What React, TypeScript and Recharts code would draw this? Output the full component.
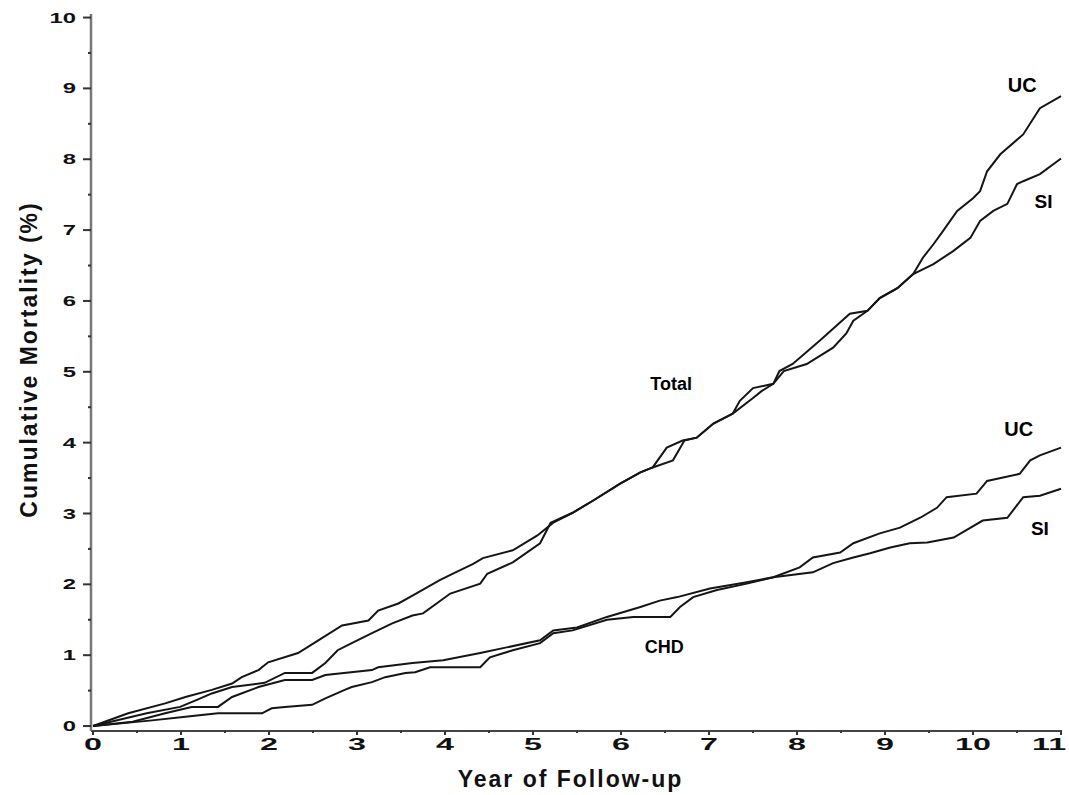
import React from 'react';
import { LineChart, Line, XAxis, YAxis, ReferenceDot } from 'recharts';

// ---- data (years of follow-up, cumulative mortality %) ----
const totalUcYears = [0, 0.4, 0.82, 1.05, 1.35, 1.58, 1.69, 1.88, 1.99, 2.33, 2.56, 2.83, 3.13, 3.24, 3.47, 3.63, 3.94, 4.09, 4.32, 4.43, 4.77, 5.05, 5.23, 5.45, 5.68, 5.99, 6.22, 6.36, 6.52, 6.7, 6.86, 7.05, 7.27, 7.35, 7.5, 7.73, 7.8, 7.95, 8.26, 8.6, 8.8, 8.94, 9.14, 9.32, 9.43, 9.55, 9.66, 9.82, 10.0, 10.08, 10.16, 10.31, 10.57, 10.76, 11];
const totalUcValues = [0, 0.18, 0.32, 0.41, 0.51, 0.6, 0.69, 0.79, 0.9, 1.03, 1.21, 1.42, 1.49, 1.63, 1.73, 1.84, 2.06, 2.15, 2.29, 2.37, 2.48, 2.69, 2.87, 3.01, 3.18, 3.42, 3.58, 3.65, 3.93, 4.03, 4.07, 4.27, 4.41, 4.59, 4.77, 4.83, 5.01, 5.11, 5.44, 5.82, 5.86, 6.04, 6.18, 6.38, 6.61, 6.8, 6.99, 7.27, 7.45, 7.55, 7.83, 8.07, 8.35, 8.72, 8.89];

const totalSiYears = [0, 0.61, 0.99, 1.18, 1.35, 1.58, 1.95, 2.18, 2.49, 2.64, 2.78, 2.94, 3.17, 3.4, 3.63, 3.75, 4.06, 4.4, 4.48, 4.77, 5.08, 5.2, 5.45, 5.68, 5.99, 6.22, 6.36, 6.59, 6.72, 6.86, 7.05, 7.27, 7.5, 7.6, 7.73, 7.85, 8.11, 8.41, 8.56, 8.64, 8.8, 8.94, 9.14, 9.32, 9.55, 9.77, 9.97, 10.08, 10.23, 10.39, 10.5, 10.57, 10.76, 11];
const totalSiValues = [0, 0.18, 0.27, 0.37, 0.46, 0.55, 0.61, 0.75, 0.75, 0.89, 1.07, 1.17, 1.31, 1.45, 1.56, 1.59, 1.87, 2.01, 2.15, 2.31, 2.58, 2.87, 3.01, 3.18, 3.42, 3.58, 3.65, 3.75, 4.03, 4.07, 4.27, 4.41, 4.63, 4.73, 4.83, 5.01, 5.11, 5.34, 5.54, 5.72, 5.86, 6.04, 6.18, 6.38, 6.52, 6.7, 6.89, 7.13, 7.27, 7.37, 7.65, 7.69, 7.79, 8.01];

const chdUcYears = [0, 0.45, 0.82, 1.12, 1.42, 1.58, 1.88, 2.18, 2.49, 2.64, 3.17, 3.24, 3.63, 3.98, 4.4, 4.7, 5.08, 5.23, 5.5, 5.84, 6.22, 6.44, 6.64, 7.01, 7.43, 7.73, 8.03, 8.18, 8.49, 8.64, 8.94, 9.17, 9.4, 9.59, 9.7, 10.04, 10.16, 10.53, 10.65, 10.76, 11];
const chdUcValues = [0, 0.06, 0.18, 0.27, 0.27, 0.41, 0.55, 0.65, 0.65, 0.72, 0.79, 0.83, 0.89, 0.93, 1.03, 1.11, 1.21, 1.35, 1.39, 1.54, 1.68, 1.77, 1.82, 1.94, 2.03, 2.1, 2.24, 2.38, 2.45, 2.58, 2.72, 2.8, 2.94, 3.08, 3.23, 3.28, 3.46, 3.56, 3.75, 3.82, 3.93];

const chdSiYears = [0, 0.67, 1.05, 1.42, 1.92, 2.03, 2.18, 2.49, 2.64, 2.86, 2.94, 3.17, 3.32, 3.55, 3.66, 3.83, 4.4, 4.51, 4.77, 5.08, 5.23, 5.45, 5.84, 6.14, 6.56, 6.67, 6.82, 7.09, 7.43, 7.73, 8.18, 8.41, 8.64, 8.83, 9.06, 9.28, 9.48, 9.78, 10.11, 10.39, 10.57, 10.76, 11];
const chdSiValues = [0, 0.08, 0.13, 0.18, 0.18, 0.25, 0.27, 0.3, 0.39, 0.51, 0.55, 0.62, 0.69, 0.75, 0.76, 0.83, 0.83, 0.97, 1.07, 1.17, 1.31, 1.35, 1.5, 1.54, 1.54, 1.68, 1.82, 1.92, 2.01, 2.1, 2.17, 2.3, 2.38, 2.44, 2.52, 2.58, 2.59, 2.66, 2.9, 2.94, 3.23, 3.25, 3.35];

const xTicks = [0, 0.5, 1, 1.5, 2, 2.5, 3, 3.5, 4, 4.5, 5, 5.5, 6, 6.5, 7, 7.5, 8, 8.5, 9, 9.5, 10, 10.5, 11];
const yTicks = [0, 0.5, 1, 1.5, 2, 2.5, 3, 3.5, 4, 4.5, 5, 5.5, 6, 6.5, 7, 7.5, 8, 8.5, 9, 9.5, 10];

const annotationText = ['UC', 'SI', 'Total', 'UC', 'SI', 'CHD'];
const annotationYears = [10.56, 10.8, 6.57, 10.52, 10.76, 6.49];
const annotationValues = [9.05, 7.41, 4.83, 4.19, 2.79, 1.12];
const annotationSizes = [20, 19, 18, 20, 19, 18];

const xTitle = 'Year of Follow-up';
const yTitle = 'Cumulative Mortality (%)';

const zip = (ts: number[], vs: number[]) => ts.map((t, i) => ({ t, v: vs[i] }));
const series = [
  { key: 'totalUC', data: zip(totalUcYears, totalUcValues) },
  { key: 'totalSI', data: zip(totalSiYears, totalSiValues) },
  { key: 'chdUC', data: zip(chdUcYears, chdUcValues) },
  { key: 'chdSI', data: zip(chdSiYears, chdSiValues) },
];

const FONT = '"Liberation Sans", Arial, Helvetica, sans-serif';
const PAGE_W = 1069;

const YTick = (props: any) => {
  const { x, y, payload } = props;
  const v = payload.value;
  const major = Number.isInteger(v);
  return (
    <g>
      <line x1={x - (major ? 8 : 3)} x2={x} y1={y} y2={y} stroke="#333" strokeWidth={2} />
      {major && (
        <text
          transform={`translate(${x - 15},${y}) scale(1.7,1)`}
          textAnchor="end"
          dy="0.36em"
          fontSize={14}
          fontWeight={700}
          fontFamily={FONT}
          fill="#111"
        >
          {v}
        </text>
      )}
    </g>
  );
};

const XTick = (props: any) => {
  const { x, y, payload } = props;
  const v = payload.value;
  const major = Number.isInteger(v);
  // keep the last label inside the page (the reference shows it at the very edge)
  const label = String(v);
  const approxHalf = label.length * 9.45 * 1.9 * 0.5;
  const cx = Math.min(x, PAGE_W - 2 - approxHalf);
  return (
    <g>
      <line x1={x} x2={x} y1={y} y2={y + (major ? 4 : 2)} stroke="#333" strokeWidth={2} />
      {major && (
        <text
          transform={`translate(${cx},${y + 19}) scale(1.9,1)`}
          textAnchor="middle"
          fontSize={17}
          fontWeight={700}
          fontFamily={FONT}
          fill="#111"
        >
          {label}
        </text>
      )}
    </g>
  );
};

const XTitle = (props: any) => {
  const vb = props.viewBox;
  return (
    <text
      x={vb.x + vb.width / 2 - 6}
      y={vb.y + vb.height - 8}
      textAnchor="middle"
      fontSize={23}
      fontWeight={700}
      letterSpacing={2}
      fontFamily={FONT}
      fill="#111"
    >
      {xTitle}
    </text>
  );
};

const YTitle = (props: any) => {
  const vb = props.viewBox;
  const cx = 37;
  const cy = vb.y + vb.height / 2 - 13;
  return (
    <text
      transform={`translate(${cx},${cy}) rotate(-90)`}
      textAnchor="middle"
      fontSize={23}
      fontWeight={700}
      letterSpacing={2}
      fontFamily={FONT}
      fill="#111"
    >
      {yTitle}
    </text>
  );
};

export default function App() {
  return (
    <div style={{ position: 'absolute', left: 0, top: 0, width: PAGE_W, height: 795, background: '#fff' }}>
      <LineChart width={PAGE_W} height={795} margin={{ top: 14, right: 7, bottom: 0, left: 0 }}>
        <XAxis
          type="number"
          dataKey="t"
          domain={[-0.023, 11.011]}
          allowDataOverflow
          ticks={xTicks}
          interval={0}
          tick={<XTick />}
          tickLine={false}
          tickSize={0}
          tickMargin={0}
          height={64}
          axisLine={{ stroke: '#444', strokeWidth: 2 }}
          label={<XTitle />}
        />
        <YAxis
          type="number"
          dataKey="v"
          domain={[-0.07, 10.05]}
          allowDataOverflow
          ticks={yTicks}
          interval={0}
          tick={<YTick />}
          tickLine={false}
          tickSize={0}
          tickMargin={0}
          width={91}
          axisLine={{ stroke: '#777', strokeWidth: 2.5 }}
          label={<YTitle />}
        />
        {series.map((s) => (
          <Line
            key={s.key}
            data={s.data}
            dataKey="v"
            type="linear"
            stroke="#151515"
            strokeWidth={2}
            dot={false}
            activeDot={false}
            isAnimationActive={false}
          />
        ))}
        {annotationText.map((txt, i) => (
          <ReferenceDot
            key={i}
            x={annotationYears[i]}
            y={annotationValues[i]}
            r={0}
            stroke="none"
            fill="none"
            label={{
              value: txt,
              position: 'center',
              fill: '#000',
              fontSize: annotationSizes[i],
              fontWeight: 700,
              fontFamily: FONT,
            }}
          />
        ))}
      </LineChart>
    </div>
  );
}
